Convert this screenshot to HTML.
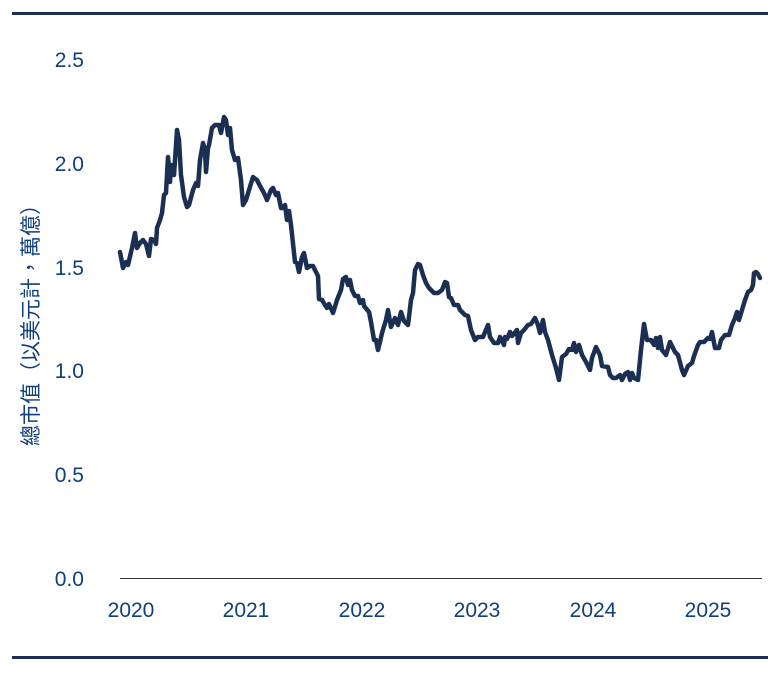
<!DOCTYPE html>
<html><head><meta charset="utf-8"><style>
html,body{margin:0;padding:0;background:#fff;}
svg{display:block;}
text{font-family:"Liberation Sans","Noto Sans CJK TC",sans-serif;fill:#0f3f7c;}
</style></head><body>
<svg width="780" height="673" viewBox="0 0 780 673">
<rect x="12" y="12" width="756" height="3" fill="#1b2f52"/>
<rect x="12" y="656" width="756" height="3" fill="#1b2f52"/>
<line x1="120" y1="578.5" x2="762" y2="578.5" stroke="#333" stroke-width="1"/>
<g font-size="21" text-anchor="end">
<text x="84" y="586">0.0</text>
<text x="84" y="482">0.5</text>
<text x="84" y="378">1.0</text>
<text x="84" y="275">1.5</text>
<text x="84" y="171">2.0</text>
<text x="84" y="67">2.5</text>
</g>
<g font-size="21" text-anchor="middle">
<text x="131" y="617">2020</text>
<text x="246" y="617">2021</text>
<text x="362" y="617">2022</text>
<text x="477" y="617">2023</text>
<text x="593" y="617">2024</text>
<text x="708" y="617">2025</text>
</g>
<text x="38" y="320" font-size="21" text-anchor="middle" transform="rotate(-90 38 320)">總市值（以美元計，萬億）</text>
<polyline fill="none" stroke="#1b2f52" stroke-width="4.5" stroke-linejoin="round" stroke-linecap="round" points="120,252 123,268 126,262 128,265 132,248 135,233 137,248 140,243 143,240 146,244 149,256 151,239 154,240 156,244 157,228 160,220 162,213 164,195 166,193 168,157 170,182 171,165 174,175 177,130 179,140 181,175 184,197 187,207 189,205 193,190 196,183 198,186 200,160 203,143 205,150 206,172 208,148 209,145 212,128 215,125 219,125 221,133 224,117 226,120 228,135 230,128 232,150 235,160 238,158 241,180 243,205 246,200 249,190 253,177 257,180 260,186 264,193 267,200 271,190 273,188 276,195 278,193 281,208 283,208 285,205 287,220 289,211 291,225 295,262 297,263 299,272 302,257 304,253 307,268 310,266 313,266 316,272 318,276 319,299 322,300 325,305 327,308 329,304 333,313 337,300 341,290 343,279 346,277 348,285 350,280 352,290 355,296 358,296 360,303 363,300 364,306 369,312 371,322 374,340 376,340 378,350 380,342 382,333 386,320 388,310 391,327 395,318 398,325 401,312 404,321 408,325 411,300 413,293 415,270 418,264 420,265 423,275 426,283 429,288 434,293 438,293 442,290 445,282 447,283 449,297 451,298 454,305 458,305 460,310 465,315 468,316 471,330 475,340 478,337 483,337 488,325 490,337 494,343 498,343 500,337 504,345 505,337 507,339 510,332 512,336 517,330 518,343 521,333 524,330 528,325 531,324 535,318 538,325 540,333 543,320 545,332 548,340 552,355 556,368 559,380 562,357 566,354 569,349 572,350 574,343 576,352 579,345 582,355 586,362 590,370 592,358 596,347 600,355 602,366 608,367 610,375 613,378 616,378 620,375 622,380 625,374 628,372 630,380 632,373 634,378 638,380 641,350 644,324 647,340 651,340 654,345 656,338 658,348 660,337 662,350 666,355 670,342 675,352 678,355 682,370 684,375 688,366 692,363 694,356 698,345 700,342 704,342 708,338 710,339 712,332 715,348 719,348 721,340 725,335 729,335 732,325 735,318 737,312 739,320 742,310 745,300 748,292 751,290 753,285 754,273 756,272 758,274 760,278"/>
</svg>
</body></html>
